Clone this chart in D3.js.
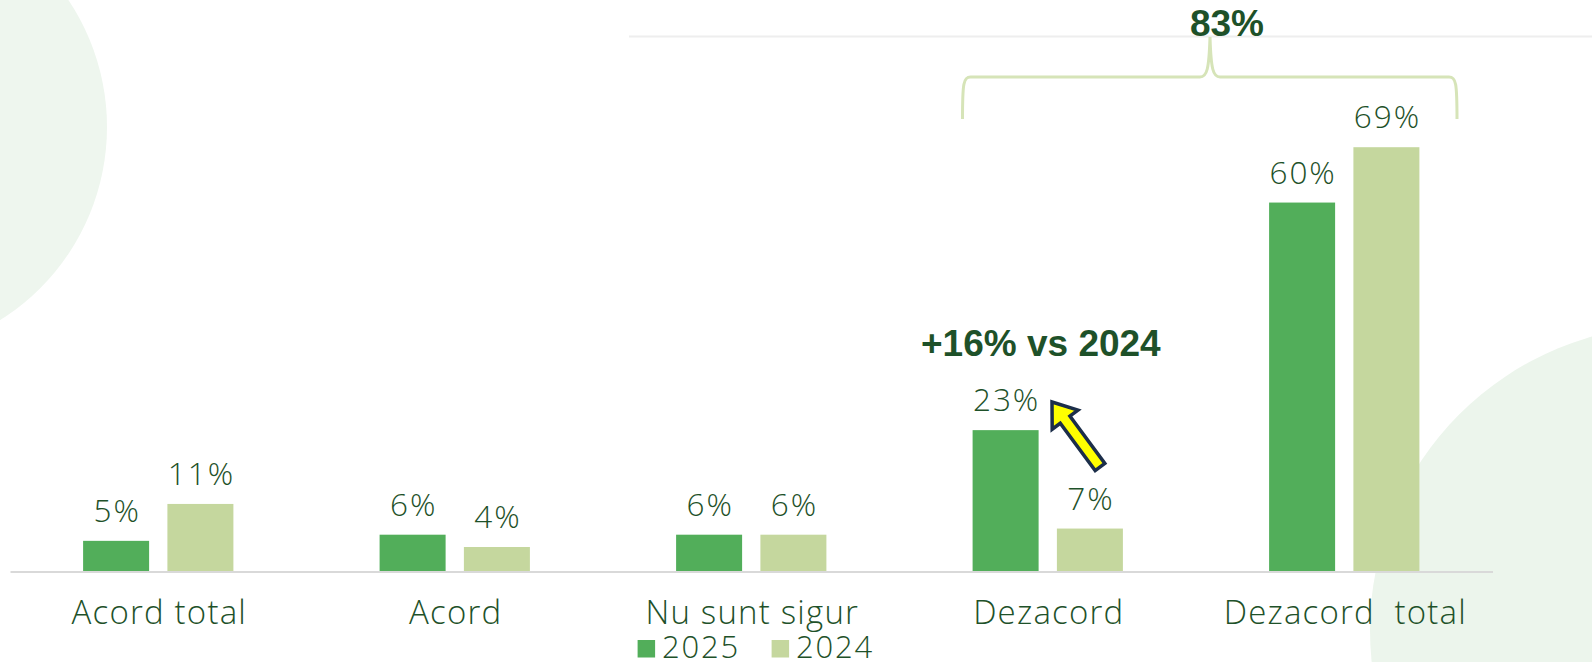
<!DOCTYPE html>
<html>
<head>
<meta charset="utf-8">
<script src="https://cdn.jsdelivr.net/npm/d3@7"></script>
<style>
  html, body { margin: 0; padding: 0; background: #ffffff; overflow: hidden; }
  svg { display: block; }
  text { white-space: pre; }
</style>
</head>
<body>
<svg id="chart" width="1592" height="662"></svg>
<script>
// ---- data ----
const categories = ["Acord total", "Acord", "Nu sunt sigur", "Dezacord", "Dezacord  total"];
const seriesNames = ["2025", "2024"];
const values2025 = [5, 6, 6, 23, 60];
const values2024 = [11, 4, 6, 7, 69];
const seriesColors = ["#52ae5a", "#c5d79e"];
const bracketLabel = "83%";
const changeLabel = "+16% vs 2024";

// ---- layout ----
const W = 1592, H = 662;
const svg = d3.select("#chart");
const textColor = "#1e5129";
const labelFont = "'Open Sans', 'Noto Sans', sans-serif";
const boldFont = "'Liberation Sans', Arial, sans-serif";

// background decoration circles
svg.append("circle").attr("cx", -121).attr("cy", 127).attr("r", 228).attr("fill", "#eef6ee");
svg.append("circle").attr("cx", 1675).attr("cy", 630).attr("r", 305).attr("fill", "#ecf5ec");

// top thin line
svg.append("line").attr("x1", 629).attr("x2", W).attr("y1", 36.5).attr("y2", 36.5)
  .attr("stroke", "#eeeeee").attr("stroke-width", 2);

const x0 = d3.scaleBand().domain(categories).range([10, 1492.5]).paddingInner(0).paddingOuter(0);
const x1 = d3.scaleBand().domain(seriesNames).range([0, 150.3]).paddingInner(0.217).paddingOuter(0);
const y = d3.scaleLinear().domain([0, 69]).range([571.6, 147.2]);

const rows = categories.map((c, i) => ({ cat: c, vals: [values2025[i], values2024[i]] }));

const groups = svg.selectAll("g.grp").data(rows).join("g")
  .attr("class", "grp")
  .attr("transform", d => `translate(${x0(d.cat) + x0.bandwidth() / 2 - 75.15},0)`);

groups.selectAll("rect").data(d => d.vals.map((v, j) => ({ s: seriesNames[j], v, j })))
  .join("rect")
  .attr("x", d => x1(d.s))
  .attr("width", x1.bandwidth())
  .attr("y", d => y(d.v))
  .attr("height", d => y(0) - y(d.v))
  .attr("fill", d => seriesColors[d.j]);

groups.selectAll("text.val").data(d => d.vals.map((v, j) => ({ s: seriesNames[j], v, j })))
  .join("text")
  .attr("class", "val")
  .attr("x", d => x1(d.s) + x1.bandwidth() / 2 + 1)
  .attr("y", d => y(d.v) - 19)
  .attr("text-anchor", "middle")
  .attr("font-family", labelFont)
  .attr("font-weight", 300)
  .attr("font-size", 31.5)
  .attr("letter-spacing", 2)
  .attr("fill", textColor)
  .text(d => d.v + "%");

// axis
const xAxis = d3.axisBottom(x0).tickSize(0).tickPadding(0);
const axG = svg.append("g").attr("transform", `translate(0,${y(0)})`).call(xAxis);
axG.select(".domain").attr("stroke", "#d9d9d9").attr("stroke-width", 2);
axG.selectAll(".tick text")
  .attr("y", 52)
  .attr("dy", 0)
  .attr("x", 1)
  .attr("font-family", labelFont)
  .attr("font-weight", 300)
  .attr("font-size", 33)
  .attr("letter-spacing", 1.2)
  .attr("fill", textColor);

// legend
const legend = svg.append("g");
const legX = [637.6, 771.6];
seriesNames.forEach((s, j) => {
  legend.append("rect").attr("x", legX[j]).attr("y", 640).attr("width", 17.5).attr("height", 17.5)
    .attr("fill", seriesColors[j]);
  legend.append("text").attr("x", legX[j] + 24.5).attr("y", 658)
    .attr("font-family", labelFont).attr("font-weight", 300).attr("font-size", 31)
    .attr("letter-spacing", 1.8)
    .attr("fill", textColor).text(s);
});

// bracket over Dezacord + Dezacord total
const bx0 = 962.5, bx1 = 1457, bxm = 1210, byTop = 77, byEnd = 119, byPeak = 37;
const brace = d3.path();
brace.moveTo(bx0, byEnd);
brace.bezierCurveTo(bx0, byTop + 6, bx0 + 1, byTop, bx0 + 8, byTop);
brace.lineTo(bxm - 10, byTop);
brace.bezierCurveTo(bxm - 3, byTop, bxm - 1, byTop - 8, bxm, byPeak);
brace.moveTo(bxm, byPeak);
brace.bezierCurveTo(bxm + 1, byTop - 8, bxm + 3, byTop, bxm + 10, byTop);
brace.lineTo(bx1 - 8, byTop);
brace.bezierCurveTo(bx1 - 1, byTop, bx1, byTop + 6, bx1, byEnd);
svg.append("path").attr("d", brace.toString()).attr("fill", "none")
  .attr("stroke", "#d6e4b8").attr("stroke-width", 3);

svg.append("text").attr("x", 1227).attr("y", 36)
  .attr("text-anchor", "middle")
  .attr("font-family", boldFont).attr("font-weight", 700).attr("font-size", 37)
  .attr("fill", textColor).text(bracketLabel);

// change annotation
svg.append("text").attr("x", 921).attr("y", 356)
  .attr("font-family", boldFont).attr("font-weight", 700).attr("font-size", 37)
  .attr("fill", textColor).text(changeLabel);

// arrow (tip near 23% label, tail lower right)
const tip = [1052, 402], tail = [1100, 467];
const ang = Math.atan2(tail[1] - tip[1], tail[0] - tip[0]) * 180 / Math.PI;
const L = Math.hypot(tail[0] - tip[0], tail[1] - tip[1]);
const hl = 22, hw = 16, sw = 6;
const arrowPts = [[0, 0], [hl, -hw], [hl, -sw], [L, -sw], [L, sw], [hl, sw], [hl, hw]];
svg.append("path")
  .attr("d", d3.line()(arrowPts) + "Z")
  .attr("transform", `translate(${tip[0]},${tip[1]}) rotate(${ang})`)
  .attr("fill", "#ffff00")
  .attr("stroke", "#1c2e4a")
  .attr("stroke-width", 3.5)
  .attr("stroke-linejoin", "miter");
</script>
</body>
</html>
